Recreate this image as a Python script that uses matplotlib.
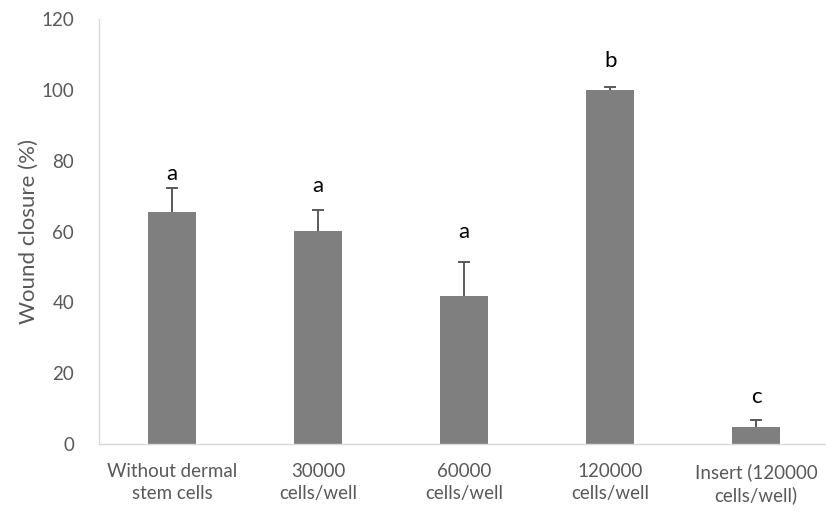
import matplotlib
matplotlib.use("Agg")
import matplotlib.pyplot as plt

categories = ["Without dermal\nstem cells", "30000\ncells/well", "60000\ncells/well",
              "120000\ncells/well", "Insert (120000\ncells/well)"]
closure = [65.6, 60.1, 41.8, 100.0, 4.9]
sd = [6.7, 5.9, 9.7, 0.9, 1.9]
letters = ["a", "a", "a", "b", "c"]
letter_y = [76.2, 72.8, 59.8, 108.1, 13.4]

plt.rcParams["font.family"] = ["Lato", "DejaVu Sans"]

fig = plt.figure(figsize=(8.26, 5.11), dpi=100)
ax = fig.add_axes([0.1199, 0.1311, 0.884, 0.8317])

x = range(len(categories))
ax.bar(x, closure, width=0.33, color="#7f7f7f", zorder=2)
eb = ax.errorbar(x, closure, yerr=[[0] * len(sd), sd], fmt="none", ecolor="#595959",
                 elinewidth=1.4, capsize=4, capthick=1.4, zorder=3)
# only the upper half of each error bar is shown
eb.lines[1][0].remove()

for xi, lab, ly in zip(x, letters, letter_y):
    ax.text(xi, ly, lab, ha="center", va="center", fontsize=16, color="black")

ax.set_xlim(-0.5, 4.5)
ax.set_ylim(0, 120)
ax.set_yticks(range(0, 121, 20))
ax.set_xticks(list(x))
ax.set_xticklabels(categories, fontsize=13.5, color="#595959", linespacing=1.3)
ax.tick_params(axis="y", labelsize=13.5, labelcolor="#595959", length=0, pad=18)
ax.tick_params(axis="x", length=0, pad=14)
ax.set_ylabel("Wound closure (%)", fontsize=16, color="#595959", labelpad=2)

for side in ["top", "right"]:
    ax.spines[side].set_visible(False)
for side in ["left", "bottom"]:
    ax.spines[side].set_color("#d9d9d9")
    ax.spines[side].set_linewidth(1.0)

fig.savefig("out.png", dpi=100)
